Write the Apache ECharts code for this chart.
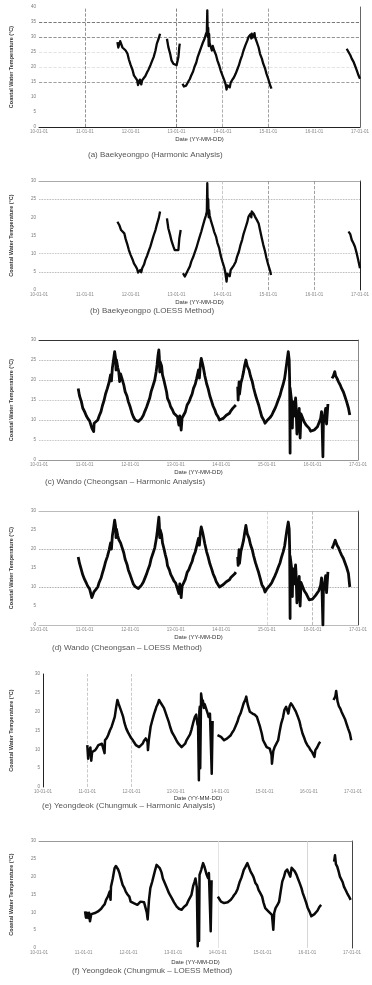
<!DOCTYPE html>
<html><head><meta charset="utf-8">
<script src="https://cdn.jsdelivr.net/npm/echarts@6/dist/echarts.min.js"></script>
<style>html,body{margin:0;padding:0;background:#fff}#c{width:372px;height:985px}</style>
</head><body><div id="c"></div>
<script>
// x values: years since 2010-01-01
const xTickLabels = ['10-01-01','11-01-01','12-01-01','13-01-01','14-01-01','15-01-01','16-01-01','17-01-01'];
const xAxisName = 'Date (YY-MM-DD)';
const yAxisName = 'Coastal Water Temperature (°C)';
const captions = [
  '(a) Baekyeongpo (Harmonic Analysis)',
  '(b) Baekyeongpo (LOESS Method)',
  '(c) Wando (Cheongsan – Harmonic Analysis)',
  '(d) Wando (Cheongsan – LOESS Method)',
  '(e) Yeongdeok (Chungmuk – Harmonic Analysis)',
  '(f) Yeongdeok (Chungmuk – LOESS Method)'
];

// (a) Baekyeongpo, harmonic
const aSeg1 = [[1.71,28.3],[1.73,26.5],[1.75,27],[1.77,28.6],[1.79,28],[1.82,26.5],[1.86,26.7],[1.89,25.5],[1.93,24.4],[1.96,22.5],[2.0,20.6],[2.04,19],[2.07,17.2],[2.11,16.3],[2.14,15.6],[2.16,14],[2.18,14.4],[2.2,15.8],[2.21,15.2],[2.23,14.2],[2.25,15.6],[2.29,16],[2.32,17],[2.36,18.3],[2.39,19.2],[2.43,20.6],[2.46,21.8],[2.5,23.3],[2.54,25.5],[2.57,27.8],[2.61,29.5],[2.64,31.1]];
const aSeg2 = [[2.79,29.4],[2.82,26.7],[2.86,24.4],[2.89,22.2],[2.93,21.1],[2.96,20.6],[3.0,20.6],[3.04,23.3],[3.06,26.7],[3.07,27.8]];
const aSeg3 = [[3.13,14.4],[3.16,13.5],[3.18,13.1],[3.21,13.8],[3.25,15],[3.29,16],[3.32,17.2],[3.36,18.5],[3.39,20],[3.43,21.5],[3.46,23.3],[3.5,25],[3.54,26.7],[3.57,28],[3.61,29.4],[3.64,31],[3.66,31.7],[3.67,38.9],[3.68,30],[3.69,33],[3.7,27],[3.71,31],[3.72,28],[3.75,27.8],[3.77,25.5],[3.79,27],[3.82,25.5],[3.86,24],[3.89,22.2],[3.93,20.5],[3.96,18.9],[4.0,17.2],[4.04,15.6],[4.07,14.2],[4.09,12.5],[4.11,13.9],[4.14,14.4],[4.16,13.2],[4.18,14.8],[4.21,15.6],[4.25,16.5],[4.29,17.8],[4.32,19],[4.36,20.6],[4.39,22.2],[4.43,23.9],[4.46,25.5],[4.5,27.2],[4.54,28.7],[4.57,30],[4.61,30.8],[4.63,29.5],[4.64,31.1],[4.66,29.8],[4.68,30.5],[4.7,31.3],[4.71,30],[4.75,28.3],[4.79,26.5],[4.82,24.4],[4.86,22.8],[4.89,21.1],[4.93,19.5],[4.96,17.8],[5.0,16],[5.04,13.9],[5.07,12.8]];
const aSeg4 = [[6.71,26.1],[6.75,25],[6.79,23.9],[6.82,22.8],[6.86,21.7],[6.89,20.5],[6.93,18.9],[6.96,17.5],[7.0,16.1]];

// (b) Baekyeongpo, LOESS
const bSeg1 = [[1.71,18.8],[1.75,17.9],[1.79,16.5],[1.82,17],[1.86,15.6],[1.89,14],[1.93,12.4],[1.96,11],[2.0,9.6],[2.04,8.4],[2.07,7.3],[2.11,6.5],[2.14,5.8],[2.16,4.8],[2.18,5.2],[2.21,5.5],[2.23,4.9],[2.25,6],[2.29,7],[2.32,8.3],[2.36,9.5],[2.39,10.6],[2.43,12],[2.46,13.3],[2.5,15],[2.54,16.5],[2.57,18],[2.61,19.7],[2.64,21.6]];
const bSeg2 = [[2.79,19.7],[2.82,17],[2.86,15.1],[2.89,13.5],[2.93,12],[2.96,11],[3.0,10.8],[3.04,11],[3.06,14.2],[3.09,16.5]];
const bSeg3 = [[3.14,4.6],[3.18,3.7],[3.21,4.5],[3.25,5.5],[3.29,6.5],[3.32,7.8],[3.36,9],[3.39,10.1],[3.43,11.5],[3.46,12.8],[3.5,14.5],[3.54,16.1],[3.57,17.5],[3.61,19.3],[3.64,20.5],[3.66,21.6],[3.67,29.4],[3.68,22],[3.69,25],[3.7,20],[3.71,22],[3.72,20.6],[3.75,19],[3.79,17.4],[3.82,16],[3.86,14.7],[3.89,13],[3.93,11.5],[3.96,9.6],[4.0,7.8],[4.04,6.2],[4.06,5],[4.09,2.3],[4.11,4.5],[4.14,5],[4.16,3.8],[4.18,5.5],[4.21,6],[4.25,6.8],[4.29,7.8],[4.32,9.2],[4.36,10.6],[4.39,12.2],[4.43,13.8],[4.46,15.4],[4.5,17],[4.54,18.6],[4.57,20.2],[4.61,21],[4.63,20],[4.64,21.6],[4.68,21],[4.71,20.2],[4.75,19.3],[4.79,18.3],[4.82,16.5],[4.86,14.2],[4.89,12.5],[4.93,10.6],[4.96,8.8],[5.0,6.9],[5.04,5.3],[5.06,4.1]];
const bSeg4 = [[6.75,16.1],[6.79,15.3],[6.82,13.8],[6.86,12.8],[6.89,11.9],[6.93,10],[6.96,8.3],[7.0,6]];

// (c) Wando, harmonic
const cSeg1 = [[0.86,17.9],[0.89,16],[0.93,14.6],[0.96,13],[1.0,12.1],[1.04,11],[1.07,10.4],[1.11,9.8],[1.14,9.6],[1.16,8],[1.18,8.3],[1.2,7.1],[1.21,9.2],[1.25,9.6],[1.29,10],[1.32,11],[1.36,12.1],[1.39,13.5],[1.43,15],[1.46,16.5],[1.5,17.9],[1.54,19.5],[1.57,21.3],[1.59,19.8],[1.61,23],[1.63,24.6],[1.66,27.1],[1.68,25.5],[1.69,22.5],[1.7,25],[1.73,23],[1.75,22.1],[1.77,19.6],[1.79,21.5],[1.82,20.4],[1.86,18.8],[1.89,17.1],[1.93,16],[1.96,14.6],[2.0,13.3],[2.04,11.7],[2.07,10.8],[2.11,10],[2.14,9.8],[2.18,9.6],[2.21,10],[2.25,10.4],[2.29,11.2],[2.32,12.1],[2.36,13.2],[2.39,14.2],[2.43,15.5],[2.46,17.1],[2.5,18.5],[2.54,20],[2.57,22],[2.59,23.75],[2.61,26],[2.63,27.5],[2.64,25.8],[2.65,22],[2.66,24.5],[2.69,23.5],[2.71,21.3],[2.74,20],[2.77,18.5],[2.8,17],[2.82,15.4],[2.86,14.4],[2.89,13.3],[2.93,12.5],[2.96,11.7],[3.0,11.2],[3.04,10.8],[3.07,8.75],[3.09,11],[3.12,7.5],[3.14,10.5],[3.18,10.4],[3.21,12],[3.25,13.75],[3.29,14.5],[3.32,15.4],[3.36,16.5],[3.39,17.9],[3.43,19],[3.46,20.4],[3.5,22.5],[3.52,20.5],[3.54,23.75],[3.56,25.4],[3.59,24],[3.61,22.9],[3.64,21],[3.68,19],[3.71,17.9],[3.75,16],[3.79,14.6],[3.82,13.5],[3.86,12.5],[3.89,11.5],[3.93,10.8],[3.96,10],[4.0,9.6],[4.04,10.4],[4.07,10.8],[4.11,11.2],[4.14,11.5],[4.18,11.7],[4.21,12.3],[4.25,12.9],[4.29,13.3],[4.32,13.75]];
const cSeg2 = [[4.36,18.3],[4.37,15],[4.39,19.5],[4.4,16.5],[4.43,19.2],[4.46,20.5],[4.49,22.1],[4.51,23.5],[4.54,25],[4.57,23.5],[4.61,22.5],[4.64,21],[4.68,19.6],[4.71,18],[4.75,16.25],[4.79,14.8],[4.82,13.75],[4.86,12],[4.89,10.8],[4.93,10],[4.96,9.2],[5.0,9.8],[5.04,10],[5.07,10.6],[5.11,11.25],[5.14,12],[5.18,12.9],[5.21,13.75],[5.25,15],[5.29,16.2],[5.32,17.5],[5.36,19],[5.39,20.4],[5.41,22],[5.44,24.6],[5.47,27.1],[5.49,25],[5.5,20],[5.51,1.7],[5.51,18],[5.54,15],[5.56,8],[5.57,14.6],[5.6,11],[5.63,15.5],[5.64,13.75],[5.66,6.5],[5.68,9],[5.71,12.9],[5.73,5.5],[5.75,11.5],[5.79,11.25],[5.82,9.5],[5.86,8.75],[5.89,8.5],[5.93,7.9],[5.96,7.2],[6.0,7.1],[6.04,7.5],[6.07,7.9],[6.11,8.3],[6.14,9.2],[6.18,10.4],[6.2,12.1],[6.21,10],[6.23,0.8],[6.24,9],[6.26,10.8],[6.29,12.9],[6.31,9],[6.34,14]];
const cSeg3 = [[6.43,20.4],[6.46,21],[6.49,22.1],[6.51,21],[6.54,20.4],[6.57,19.6],[6.61,18.75],[6.64,17.9],[6.68,17],[6.71,16],[6.75,14.6],[6.79,13],[6.82,11.25]];

// (d) Wando, LOESS
const dSeg1 = [[0.86,17.9],[0.89,16.2],[0.93,14.5],[0.96,13.2],[1.0,12],[1.04,11],[1.07,10.2],[1.11,9.5],[1.14,9],[1.16,7.2],[1.18,7.9],[1.21,8.8],[1.25,9.4],[1.29,10],[1.32,11.2],[1.36,12.3],[1.39,13.6],[1.43,15.2],[1.46,16.6],[1.5,18],[1.54,19.8],[1.57,21.6],[1.59,20],[1.61,23.5],[1.63,25],[1.66,27.6],[1.68,26],[1.69,23],[1.7,25.2],[1.73,23.4],[1.75,22.5],[1.79,21.6],[1.82,20.5],[1.86,19],[1.89,17.3],[1.93,16],[1.96,14.5],[2.0,13.2],[2.04,11.8],[2.07,10.8],[2.11,10.1],[2.14,9.9],[2.18,9.6],[2.21,9.9],[2.25,10.5],[2.29,11.3],[2.32,12.2],[2.36,13.4],[2.39,14.5],[2.43,15.8],[2.46,17.4],[2.5,18.8],[2.54,20.3],[2.57,22.4],[2.59,24],[2.61,26.2],[2.63,28.4],[2.64,26.5],[2.65,23],[2.66,25],[2.69,23.8],[2.71,21.6],[2.74,20.2],[2.77,18.6],[2.8,17.2],[2.82,15.6],[2.86,14.5],[2.89,13.3],[2.93,12.4],[2.96,11.6],[3.0,11],[3.04,10.5],[3.07,8.3],[3.09,10.8],[3.12,7.2],[3.14,10.2],[3.18,10.3],[3.21,12],[3.25,13.8],[3.29,14.6],[3.32,15.6],[3.36,16.7],[3.39,18.1],[3.43,19.3],[3.46,20.8],[3.5,22.8],[3.52,21],[3.54,24.2],[3.56,25.8],[3.59,24.4],[3.61,23.2],[3.64,21.3],[3.68,19.2],[3.71,18],[3.75,16.1],[3.79,14.7],[3.82,13.5],[3.86,12.4],[3.89,11.4],[3.93,10.6],[3.96,10],[4.0,10.2],[4.04,10.6],[4.07,11],[4.11,11.4],[4.14,11.6],[4.18,11.9],[4.21,12.5],[4.25,13],[4.29,13.4],[4.32,13.9]];
const dSeg2 = [[4.36,17.9],[4.37,15.7],[4.39,19.8],[4.4,16.2],[4.43,19.4],[4.46,20.8],[4.49,22.4],[4.51,24],[4.54,26.2],[4.57,24],[4.61,22.8],[4.64,21.2],[4.68,19.8],[4.71,18.2],[4.75,16.4],[4.79,14.9],[4.82,13.8],[4.86,12],[4.89,10.6],[4.93,9.8],[4.96,8.7],[5.0,9.5],[5.04,9.9],[5.07,10.5],[5.11,11.2],[5.14,12],[5.18,13],[5.21,13.9],[5.25,15.2],[5.29,16.4],[5.32,17.8],[5.36,19.3],[5.39,20.8],[5.41,22.5],[5.44,25],[5.47,27.1],[5.49,25.2],[5.5,20.3],[5.51,1.7],[5.51,18.2],[5.54,15.3],[5.56,7.5],[5.57,14.8],[5.6,10.8],[5.63,15.8],[5.64,13.8],[5.66,5.8],[5.68,8.6],[5.71,12.8],[5.73,5],[5.75,11.2],[5.79,11],[5.82,9],[5.86,8.3],[5.89,7.8],[5.93,6.6],[5.96,6.9],[6.0,6.8],[6.04,7.2],[6.07,7.8],[6.11,8.2],[6.14,9],[6.18,10.5],[6.2,12.4],[6.21,9.6],[6.23,0],[6.24,8.8],[6.26,10.6],[6.29,13],[6.31,8.5],[6.34,14]];
const dSeg3 = [[6.43,20.1],[6.46,21],[6.5,22.3],[6.54,21],[6.57,20.4],[6.61,19.2],[6.64,18.4],[6.68,17.5],[6.71,16.5],[6.75,15.2],[6.79,13.6],[6.82,10]];

// (e) Yeongdeok, harmonic
const eSeg1 = [[1.0,11.1],[1.02,7.5],[1.03,8.9],[1.07,10.5],[1.09,7],[1.11,9.3],[1.14,9.5],[1.18,9.8],[1.22,10.5],[1.25,11.1],[1.29,11.3],[1.33,11.5],[1.36,11],[1.39,9],[1.4,12.4],[1.44,13],[1.47,13.75],[1.51,15],[1.55,16],[1.59,17.5],[1.62,18.6],[1.65,21],[1.68,23.1],[1.71,22],[1.73,21.7],[1.77,20],[1.81,18.6],[1.84,17],[1.88,15.5],[1.92,14.5],[1.95,14],[1.99,13],[2.03,12.4],[2.06,11.8],[2.1,11.1],[2.14,10.8],[2.17,10.6],[2.21,11],[2.25,11.5],[2.28,12.3],[2.32,12.9],[2.36,12],[2.37,9.8],[2.39,12.5],[2.43,16],[2.47,17.8],[2.51,19.5],[2.54,20.5],[2.56,21.3],[2.59,22],[2.62,23.1],[2.65,22.5],[2.69,22.2],[2.73,21],[2.76,20],[2.8,18.6],[2.84,17.3],[2.87,16],[2.91,14.6],[2.95,13.8],[2.99,12.9],[3.02,12.2],[3.06,11.5],[3.1,11],[3.13,10.6],[3.17,11],[3.21,11.5],[3.24,12.4],[3.28,12.9],[3.32,14],[3.35,15.1],[3.39,17],[3.43,18.6],[3.46,19.2],[3.49,16.5],[3.5,17.5],[3.52,1.8],[3.53,20],[3.54,21.3],[3.55,5],[3.57,24.8],[3.6,22],[3.61,23],[3.63,21],[3.65,22],[3.69,21.7],[3.72,19.5],[3.74,18.6],[3.77,19.5],[3.8,20],[3.81,3.5],[3.83,17.5]];
const eSeg2 = [[3.94,13.75],[3.98,13.5],[4.02,13.3],[4.05,12.8],[4.09,12.4],[4.13,12.6],[4.16,12.9],[4.2,13.3],[4.24,13.75],[4.27,14.4],[4.31,15.1],[4.35,16.2],[4.39,17.3],[4.42,18.5],[4.46,19.5],[4.5,21],[4.53,22.2],[4.57,23.2],[4.59,24],[4.62,22],[4.64,21.5],[4.67,20],[4.7,20.4],[4.73,19.5],[4.78,19.2],[4.83,18.6],[4.86,17.5],[4.9,16],[4.94,14.2],[4.97,12.4],[5.01,11.5],[5.05,10.6],[5.09,10.4],[5.12,10.2],[5.16,8.5],[5.17,6.2],[5.2,9.5],[5.23,10.6],[5.27,11.5],[5.31,12.4],[5.34,14.5],[5.38,16.9],[5.42,18.5],[5.45,20.4],[5.49,21.3],[5.51,21.7],[5.54,19.5],[5.57,21.5],[5.6,22.2],[5.64,21.5],[5.67,21],[5.71,20],[5.75,18.8],[5.79,17.5],[5.82,16],[5.86,14.2],[5.9,13],[5.93,12],[5.97,11.1],[6.01,10.5],[6.04,9.8],[6.08,9.2],[6.1,8.9],[6.13,8],[6.15,9.8],[6.19,10.5],[6.23,11.5],[6.26,12]];
const eSeg3 = [[6.56,23.1],[6.6,24],[6.62,25.5],[6.65,22.8],[6.68,21.5],[6.71,20.9],[6.74,20],[6.78,19],[6.82,18],[6.85,16.9],[6.89,15.5],[6.93,14.2],[6.96,12.4]];

// (f) Yeongdeok, LOESS
const fSeg1 = [[1.03,10.25],[1.05,8.5],[1.07,9.9],[1.1,8.4],[1.12,9.9],[1.14,7.5],[1.17,9.5],[1.21,9.3],[1.25,9.8],[1.28,10],[1.32,10.25],[1.36,10.6],[1.39,11],[1.43,11.7],[1.47,12.3],[1.5,13.5],[1.54,14.4],[1.58,15.8],[1.6,13.5],[1.61,17.2],[1.65,19.5],[1.69,22.4],[1.72,23],[1.75,22.8],[1.77,22],[1.8,21],[1.83,19.5],[1.87,17.7],[1.91,16.8],[1.94,15.8],[1.98,15],[2.02,14.4],[2.05,13],[2.09,12.8],[2.13,12.5],[2.16,12.3],[2.2,12.1],[2.24,12.5],[2.27,13],[2.31,12.6],[2.35,12.8],[2.38,12.6],[2.41,10],[2.43,8],[2.46,13.5],[2.49,16.8],[2.53,18.5],[2.57,20.5],[2.6,22],[2.63,23.3],[2.66,23.5],[2.7,22.4],[2.74,21.2],[2.77,19.5],[2.82,18],[2.86,16.8],[2.91,15.3],[2.97,14],[3.02,12.8],[3.08,11.6],[3.13,11],[3.19,10.7],[3.24,11.5],[3.3,12.1],[3.35,13.5],[3.41,14.9],[3.45,17.5],[3.48,18.6],[3.5,19.5],[3.53,17],[3.55,0.5],[3.56,16],[3.58,2],[3.59,20.5],[3.63,22],[3.67,23.8],[3.7,22.8],[3.72,22.4],[3.75,20.5],[3.78,19.6],[3.8,21],[3.83,21.2],[3.84,4.7],[3.86,19]];
const fSeg2 = [[4.0,14.4],[4.03,13.8],[4.07,13],[4.11,12.8],[4.14,12.6],[4.18,12.6],[4.22,12.8],[4.25,13.3],[4.29,13.5],[4.33,14.2],[4.36,14.8],[4.4,15.4],[4.44,16.5],[4.49,18.6],[4.53,19.8],[4.58,21.9],[4.62,22.8],[4.66,23.8],[4.69,22.8],[4.73,21.5],[4.77,20.6],[4.8,19.8],[4.84,18.2],[4.88,17.5],[4.91,16.3],[4.95,15.4],[4.99,14.4],[5.02,12.8],[5.06,11.2],[5.1,10.7],[5.13,10.3],[5.17,9.8],[5.21,9.3],[5.24,5.1],[5.26,9.8],[5.29,11.2],[5.33,12],[5.37,13],[5.4,15.5],[5.44,18.6],[5.48,20],[5.51,21.4],[5.55,22],[5.59,22.4],[5.62,20],[5.65,22.5],[5.68,22.2],[5.72,21.5],[5.76,20.5],[5.79,19.5],[5.83,18.2],[5.87,16.8],[5.9,15.4],[5.94,14],[5.98,12.5],[6.01,11.2],[6.05,10.2],[6.09,8.9],[6.12,9.3],[6.16,9.5],[6.2,10],[6.23,10.5],[6.27,11.5],[6.31,12.1]];
const fSeg3 = [[6.6,24.2],[6.62,26],[6.64,23.5],[6.67,22.8],[6.7,21.5],[6.73,20],[6.76,19.6],[6.79,18.5],[6.82,17.2],[6.86,16.2],[6.89,15.4],[6.93,14.5],[6.97,13.5]];

const panels = [
  {segs:[aSeg1,aSeg2,aSeg3,aSeg4], yMax:40, lw:2.3, grid:{left:33,top:7,width:327,height:120}, nameGap:9, cap:[88,155],
   border:{bottom:'#222',right:'#666'},
   lines:[{y:35,c:'#555',t:'dashed'},{y:30,c:'#777',t:'dashed'},{y:15,c:'#888',t:'dashed'},{y:25,c:'#ddd',t:'dashed'},{y:20,c:'#ddd',t:'dashed'},{x:1,c:'#777',t:'dashed'},{x:3,c:'#666',t:'dashed'},{x:4,c:'#999',t:'dashed'},{x:5,c:'#888',t:'dashed'}]},
  {segs:[bSeg1,bSeg2,bSeg3,bSeg4], yMax:30, lw:2.3, grid:{left:33,top:181,width:327,height:109}, nameGap:9, cap:[90,311],
   border:{top:'#aaa',right:'#222'},
   lines:[{y:25,c:'#999',t:'dotted'},{y:10,c:'#aaa',t:'dotted'},{y:5,c:'#999',t:'dotted'},{x:4,c:'#bbb',t:'dashed'},{x:5,c:'#888',t:'dashed'},{x:6,c:'#888',t:'dashed'}]},
  {segs:[cSeg1,cSeg2,cSeg3], yMax:30, lw:2.8, grid:{left:33,top:340,width:325,height:120}, nameGap:9, cap:[45,482],
   border:{top:'#333',right:'#888',bottom:'#999'},
   lines:[{y:25,c:'#999',t:'dotted'},{y:20,c:'#999',t:'dotted'},{y:15,c:'#aaa',t:'dotted'},{y:10,c:'#999',t:'dotted'},{y:5,c:'#aaa',t:'dotted'}]},
  {segs:[dSeg1,dSeg2,dSeg3], yMax:30, lw:2.8, grid:{left:33,top:511,width:325,height:114}, nameGap:9, cap:[52,648],
   border:{top:'#bbb',right:'#444',bottom:'#bbb'},
   lines:[{y:20,c:'#888',t:'dotted'},{y:10,c:'#888',t:'dotted'},{x:5,c:'#ccc',t:'dashed'},{x:6,c:'#aaa',t:'dashed'}]},
  {segs:[eSeg1,eSeg2,eSeg3], yMax:30, lw:2.5, grid:{left:37,top:674,width:316,height:113}, nameGap:8, cap:[42,806],
   border:{left:'#222'},
   lines:[{x:1,c:'#bbb',t:'dashed'},{x:2,c:'#bbb',t:'dashed'}]},
  {segs:[fSeg1,fSeg2,fSeg3], yMax:30, lw:2.5, grid:{left:33,top:841,width:319,height:107}, nameGap:11, cap:[72,971],
   border:{top:'#999',right:'#444'},
   lines:[{x:4,c:'#ddd',t:'solid'},{x:6,c:'#ccc',t:'solid'}]}
];

const FONT = 'Liberation Sans';
const option = {animation:false, grid:[], xAxis:[], yAxis:[], series:[], graphic:[]};
panels.forEach((p,i)=>{
  option.grid.push(Object.assign({containLabel:false}, p.grid));
  const edge = c => ({show:!!c, onZero:false, lineStyle:{color:c||'#000', width:1}});
  option.xAxis.push({gridIndex:i, type:'value', min:0, max:7, interval:1,
    name:xAxisName, nameLocation:'middle', nameGap:p.nameGap,
    nameTextStyle:{fontSize:6, color:'#333', fontFamily:FONT},
    axisLine:edge(p.border.bottom), axisTick:{show:false},
    axisLabel:{fontSize:4.5, color:'#888', margin:2, fontFamily:FONT, showMinLabel:true, showMaxLabel:true,
      formatter:v=>xTickLabels[Math.round(v)]||''},
    splitLine:{show:false}});
  option.xAxis.push({gridIndex:i, type:'value', position:'top', min:0, max:7,
    axisLine:edge(p.border.top), axisTick:{show:false}, axisLabel:{show:false}, splitLine:{show:false}});
  option.yAxis.push({gridIndex:i, type:'value', min:0, max:p.yMax, interval:5,
    name:yAxisName, nameLocation:'middle', nameGap:p.grid.left-8,
    nameTextStyle:{fontSize:5.5, color:'#333', fontWeight:'bold', fontFamily:FONT},
    axisLine:edge(p.border.left), axisTick:{show:false},
    axisLabel:{fontSize:4.5, color:'#777', margin:3, fontFamily:FONT},
    splitLine:{show:false}});
  option.yAxis.push({gridIndex:i, type:'value', position:'right', min:0, max:p.yMax,
    axisLine:edge(p.border.right), axisTick:{show:false}, axisLabel:{show:false}, splitLine:{show:false}});
  p.segs.forEach((seg,k)=>{
    const s = {type:'line', xAxisIndex:2*i, yAxisIndex:2*i, data:seg, showSymbol:false, symbol:'none',
      lineStyle:{color:'#0a0a0a', width:p.lw, join:'round'}, z:3};
    if(k===0){
      s.markLine = {silent:true, symbol:['none','none'], label:{show:false}, z:1,
        data:p.lines.map(l=>Object.assign(l.y!==undefined?{yAxis:l.y}:{xAxis:l.x},
          {lineStyle:{color:l.c, type:l.t, width:0.8}}))};
    }
    option.series.push(s);
  });
  option.graphic.push({type:'text', left:p.cap[0], top:p.cap[1]-4,
    style:{text:captions[i], fontSize:8, fill:'#555', fontFamily:FONT}});
});

const chart = echarts.init(document.getElementById('c'), null, {renderer:'canvas'});
chart.setOption(option);
</script>
</body></html>
